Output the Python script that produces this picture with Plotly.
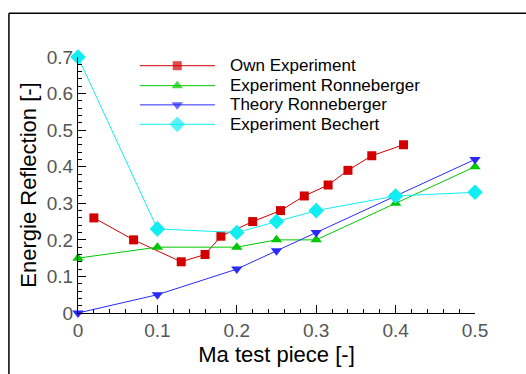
import plotly.graph_objects as go

# Own Experiment
own_x = [0.02, 0.07, 0.13, 0.16, 0.18, 0.22, 0.255, 0.285, 0.315, 0.34, 0.37, 0.41]
own_y = [0.26, 0.20, 0.14, 0.16, 0.21, 0.25, 0.28, 0.32, 0.35, 0.39, 0.43, 0.46]

# Experiment Ronneberger
exp_ron_x = [0.0, 0.1, 0.2, 0.25, 0.3, 0.4, 0.5]
exp_ron_y = [0.15, 0.18, 0.18, 0.20, 0.20, 0.30, 0.40]

# Theory Ronneberger
th_ron_x = [0.0, 0.1, 0.2, 0.25, 0.3, 0.4, 0.5]
th_ron_y = [0.0, 0.05, 0.12, 0.17, 0.22, 0.32, 0.42]

# Experiment Bechert
bech_x = [0.0, 0.1, 0.2, 0.25, 0.3, 0.4, 0.5]
bech_y = [0.70, 0.23, 0.22, 0.25, 0.28, 0.32, 0.33]

x_ticks = [0, 0.1, 0.2, 0.3, 0.4, 0.5]
x_tick_labels = ["0", "0.1", "0.2", "0.3", "0.4", "0.5"]
y_ticks = [0, 0.1, 0.2, 0.3, 0.4, 0.5, 0.6, 0.7]
y_tick_labels = ["0", "0.1", "0.2", "0.3", "0.4", "0.5", "0.6", "0.7"]

series = [
    ("Own Experiment", own_x, own_y, "#d40000", "square", 9),
    ("Experiment Ronneberger", exp_ron_x, exp_ron_y, "#00c800", "triangle-up", 10),
    ("Theory Ronneberger", th_ron_x, th_ron_y, "#2a2aff", "triangle-down", 10),
    ("Experiment Bechert", bech_x, bech_y, "#11eef2", "diamond", 12),
]

fig = go.Figure()

for name, xs, ys, color, symbol, size in series:
    fig.add_trace(go.Scatter(
        x=xs, y=ys, name=name, mode="lines+markers",
        line=dict(color=color, width=1),
        marker=dict(symbol=symbol, size=size, color=color, line=dict(width=0)),
        cliponaxis=False, showlegend=False,
    ))

# Hand-built key on an overlay axis spanning the plot area (0..1 both ways)
key_rows = [0.966, 0.888, 0.813, 0.737]
key_x0, key_xm, key_x1, key_text_x = 0.156, 0.25, 0.345, 0.378
for (name, xs, ys, color, symbol, size), ky in zip(series, key_rows):
    fig.add_trace(go.Scatter(
        x=[key_x0, key_xm, key_x1], y=[ky, ky, ky],
        xaxis="x2", yaxis="y2", mode="lines+markers",
        line=dict(color=color, width=1),
        marker=dict(symbol=symbol, size=[0, size, 0], color=color, line=dict(width=0)),
        cliponaxis=False, showlegend=False, hoverinfo="skip",
    ))
    fig.add_annotation(
        x=key_text_x, y=ky, xref="x2", yref="y2", text=name, showarrow=False,
        xanchor="left", yanchor="middle",
        font=dict(family="Liberation Sans, Arial, sans-serif", size=17, color="#000000"),
    )

tick_font = dict(family="Liberation Sans, Arial, sans-serif", size=19, color="#555555")
title_font = dict(family="Liberation Sans, Arial, sans-serif", size=22, color="#000000")

fig.update_layout(
    width=526, height=374,
    margin=dict(l=78, r=51, t=57, b=50),
    paper_bgcolor="white", plot_bgcolor="white",
    showlegend=False,
    xaxis=dict(
        range=[0, 0.5], tickvals=x_ticks, ticktext=x_tick_labels,
        showgrid=False, zeroline=False, showline=True, linecolor="black", linewidth=1,
        ticks="inside", ticklen=8, tickcolor="black", tickwidth=1,
        minor=dict(dtick=0.02, ticks="inside", ticklen=4, tickcolor="black", tickwidth=1),
        tickfont=tick_font,
        title=dict(text="Ma test piece [-]", font=title_font, standoff=6),
    ),
    yaxis=dict(
        range=[0, 0.7], tickvals=y_ticks, ticktext=y_tick_labels,
        showgrid=False, zeroline=False, showline=True, linecolor="black", linewidth=1,
        ticks="inside", ticklen=8, tickcolor="black", tickwidth=1,
        minor=dict(dtick=0.02, ticks="inside", ticklen=4, tickcolor="black", tickwidth=1),
        tickfont=tick_font,
        title=dict(text="Energie Reflection [-]", font=title_font, standoff=4),
    ),
    xaxis2=dict(overlaying="x", range=[0, 1], visible=False, fixedrange=True),
    yaxis2=dict(overlaying="y", range=[0, 1], visible=False, fixedrange=True),
    shapes=[
        dict(type="line", xref="paper", yref="paper", x0=-0.174, x1=1.13, y0=1.171, y1=1.171,
             line=dict(color="black", width=1.5)),
        dict(type="line", xref="paper", yref="paper", x0=-0.174, x1=-0.174, y0=1.171, y1=-0.35,
             line=dict(color="black", width=1.5)),
    ],
)

fig.write_html("out.html")
